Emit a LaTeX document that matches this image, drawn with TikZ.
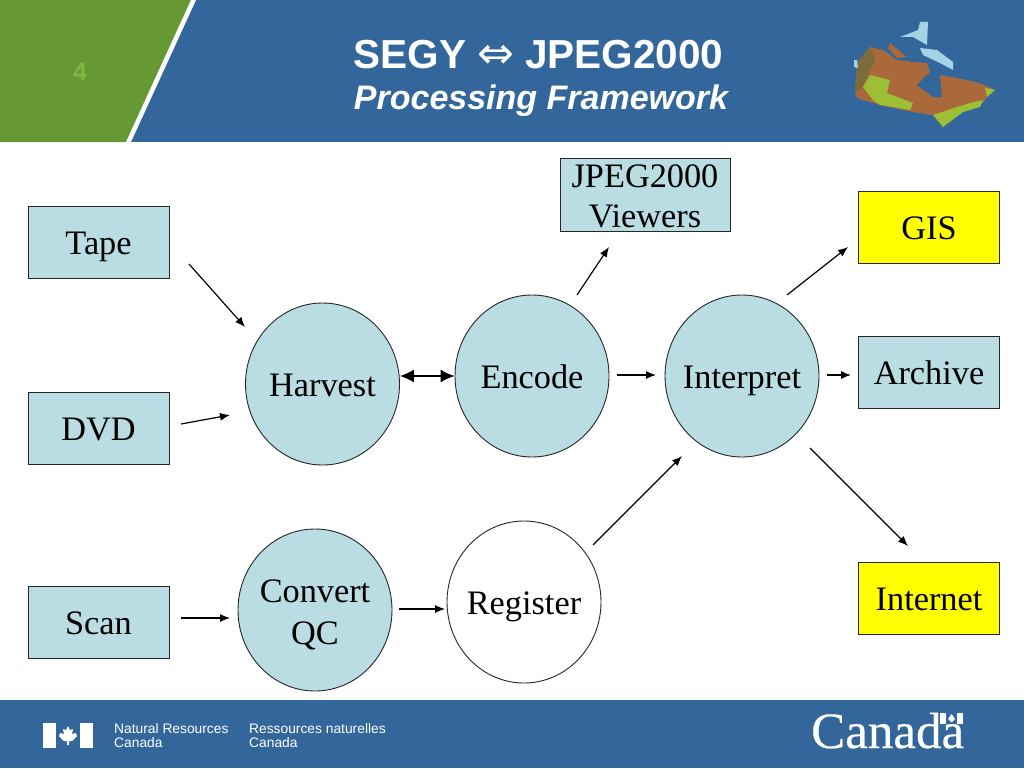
\documentclass[tikz,border=0pt]{standalone}
\usepackage{fontspec}
\setmainfont{Liberation Serif}
\newfontfamily\hdfont{Liberation Sans}
\newfontfamily\symfont{DejaVu Sans}
\newfontfamily\wordfont[FakeBold=0.4]{Liberation Serif}
\usepackage{xcolor}
\usetikzlibrary{arrows.meta,shapes.geometric}
\definecolor{nrBlue}{HTML}{33669A}
\definecolor{nrGreen}{HTML}{669933}
\definecolor{nrNum}{HTML}{7CB842}
\definecolor{boxTeal}{HTML}{B9DDE2}
\definecolor{boxYellow}{HTML}{FFFF00}
\definecolor{mapBrown}{HTML}{A9693A}
\definecolor{mapDark}{HTML}{7D6B3C}
\definecolor{mapGreen}{HTML}{9CBF35}
\definecolor{mapIce}{HTML}{A5D3E6}

\begin{document}
\begin{tikzpicture}[x=1pt,y=-1pt,
  font=\fontsize{34.3}{40}\selectfont,
  src/.style={draw=black!85, line width=0.9pt, fill=#1, minimum width=141pt, minimum height=72pt, align=center, inner sep=0pt},
  proc/.style={draw=black!85, line width=0.9pt, ellipse, fill=#1, minimum width=154pt, minimum height=162pt, align=center, inner ysep=0pt, inner xsep=-20pt},
  one/.style={text height=28pt, text depth=3pt},
  msg/.style={-{Latex[length=10pt,width=8pt]}, line width=1.2pt},
  dmsg/.style={{Latex[length=14pt,width=13pt]}-{Latex[length=14pt,width=13pt]}, line width=1.5pt},
  foot/.style={font=\hdfont\fontsize{13.8}{14}\selectfont, text=white, align=left, anchor=north west, inner sep=0pt}
]
\useasboundingbox (0,0) rectangle (1024,768);
% header and footer bands
\fill[nrBlue] (0,0) rectangle (1024,142);
\fill[nrGreen] (0,0) -- (191,0) -- (126,142) -- (0,142) -- cycle;
\fill[white] (191,0) -- (196,0) -- (131,142) -- (126,142) -- cycle;
\fill[nrBlue] (0,700) rectangle (1024,768);
\node[font=\hdfont\bfseries\fontsize{25}{25}\selectfont, text=nrNum] (num) at (80,72) {4};
\node[font=\hdfont\bfseries\fontsize{40.5}{40}\selectfont, text=white] (title) at (538.5,55) {SEGY {\symfont\mdseries\fontsize{44}{40}\selectfont ⇔} JPEG2000};
\node[font=\hdfont\bfseries\itshape\fontsize{34}{34}\selectfont, text=white] (subtitle) at (541,101) {Processing Framework};
% map
\fill[mapBrown] (855,92) -- (857,63) -- (870,47) -- (883,50) -- (897,60) -- (913,62) -- (927,63) -- (930,72) -- (917,85) -- (933,97) -- (940,75) -- (957,78) -- (980,83) -- (995,90) -- (987,97) -- (983,103) -- (963,110) -- (943,127) -- (933,115) -- (913,112) -- (880,105) -- (857,98) -- cycle;
\fill[nrBlue] (917,85) -- (927,75) -- (940,75) -- (942,97) -- (933,97) -- cycle;
\fill[mapDark] (857,63) -- (870,47) -- (875,60) -- (868,75) -- (862,88) -- (855,92) -- cycle;
\fill[mapGreen] (870,75) -- (890,80) -- (887,93) -- (913,103) -- (910,110) -- (880,105) -- (873,100) -- (863,87) -- cycle;
\fill[mapGreen] (933,115) -- (957,107) -- (970,103) -- (983,100) -- (980,107) -- (963,112) -- (943,127) -- cycle;
\fill[mapGreen] (985,88) -- (995,90) -- (987,97) -- cycle;
\fill[mapBrown] (890,43) -- (907,57) -- (897,58) -- (888,48) -- cycle;
\fill[mapIce] (920,22) -- (928,22) -- (927,45) -- (913,37) -- (900,37) -- (913,32) -- (918,30) -- cycle;
\fill[mapIce] (920,48) -- (937,50) -- (953,62) -- (953,70) -- (940,63) -- (923,55) -- cycle;
\fill[mapIce] (854,60) -- (857,60) -- (858,68) -- (854,67) -- cycle;
% sources
\node[src=boxTeal, one] (tape) at (98.5,242) {Tape};
\node[src=boxTeal, one] (dvd) at (98.5,428) {DVD};
\node[src=boxTeal, one] (scan) at (98.5,622) {Scan};
% processing steps
\node[proc=boxTeal, one] (harvest) at (322.5,384) {Harvest};
\node[proc=boxTeal, one] (encode) at (532,376) {Encode};
\node[proc=boxTeal, one] (interpret) at (742,376) {Interpret};
\node[proc=boxTeal] (convert) at (315,610) {\rule{0pt}{33pt}Convert\\[2pt]QC};
\node[proc=white, one] (register) at (524,602) {Register};
% outputs
\node[src=boxTeal, minimum width=170pt, minimum height=73pt] (viewers) at (645,194.5) {\rule{0pt}{27pt}JPEG2000\\Viewers};
\node[src=boxYellow, one] (gis) at (929,227) {GIS};
\node[src=boxTeal, one] (archive) at (929,372) {Archive};
\node[src=boxYellow, one] (internet) at (929,598) {Internet};
% free arrow ends
\coordinate (tapeA) at (189,264); \coordinate (tapeB) at (245,327);
\coordinate (dvdA) at (181,424); \coordinate (dvdB) at (230,415);
\coordinate (scanA) at (181,618); \coordinate (scanB) at (230,618);
\coordinate (convA) at (399,609); \coordinate (convB) at (445,609);
\coordinate (regA) at (593,545); \coordinate (regB) at (682,456);
\coordinate (encA) at (617,375); \coordinate (encB) at (656,375);
\coordinate (viewA) at (577,295); \coordinate (viewB) at (609,247);
\coordinate (gisA) at (787,295); \coordinate (gisB) at (848,247);
\coordinate (archA) at (827,375); \coordinate (archB) at (851,375);
\coordinate (netA) at (810,448); \coordinate (netB) at (908,546);
% flow
\foreach \a/\b in {tapeA/tapeB,dvdA/dvdB,scanA/scanB,convA/convB,regA/regB,encA/encB,viewA/viewB,gisA/gisB,archA/archB,netA/netB}
  \draw[msg] (\a) -- (\b);
\draw[dmsg] (harvest.east |- encode.west) -- (encode.west);
% footer
\fill[white] (43,723) rectangle (56,748);
\fill[white] (80,723) rectangle (93,748);
\fill[white] (68,726) -- (70,730) -- (73,729) -- (72,734) -- (76,733) -- (77,736) -- (72,741) -- (69,741) -- (69,745) -- (67,745) -- (67,741) -- (64,741) -- (59,736) -- (60,733) -- (64,734) -- (63,729) -- (66,730) -- cycle;
\node[foot] (nrcan) at (114,723) {Natural Resources\\Canada};
\node[foot] (rncan) at (249,723) {Ressources naturelles\\Canada};
\node[font=\wordfont\fontsize{51}{51}\selectfont, text=white, anchor=base west, inner sep=0pt] (canada) at (811,748) {Canada};
\fill[white] (940,713) rectangle (946,724);
\fill[white] (957,713) rectangle (963,724);
\fill[white] (951.5,714) -- (955,719) -- (952,722) -- (951,722) -- (948,719) -- cycle;
\end{tikzpicture}
\end{document}
